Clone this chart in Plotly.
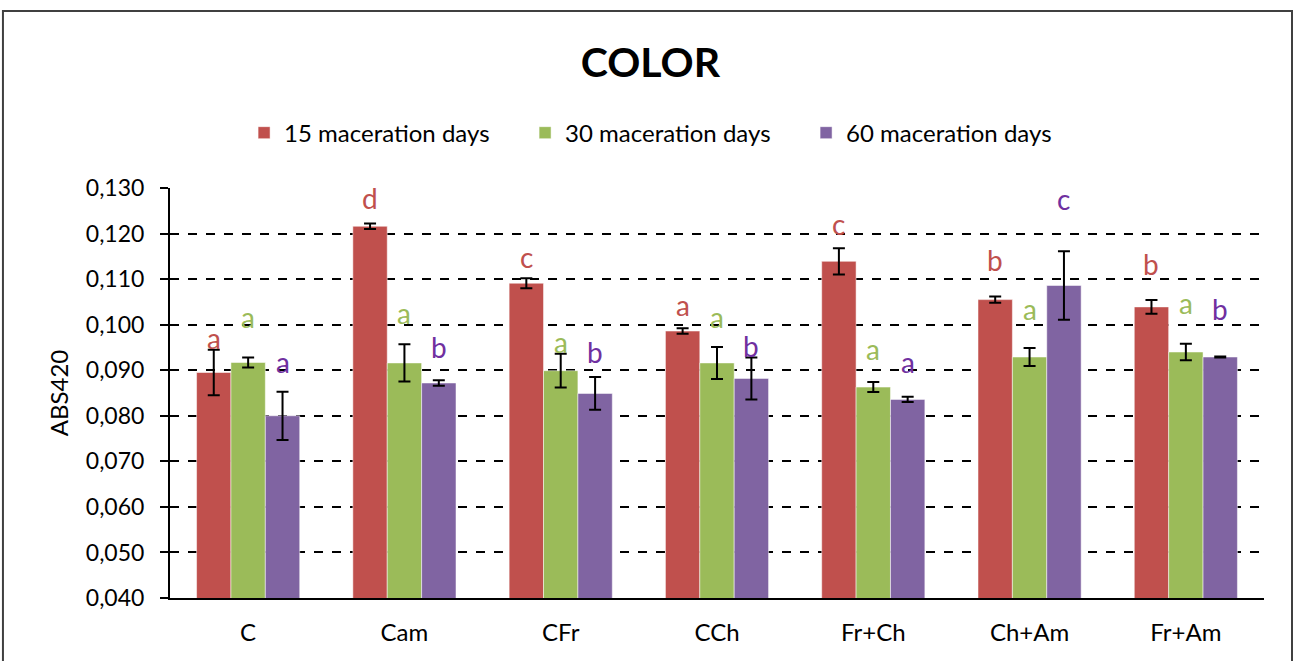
import plotly.graph_objects as go

categories = ["C", "Cam", "CFr", "CCh", "Fr+Ch", "Ch+Am", "Fr+Am"]
series_names = ["15 maceration days", "30 maceration days", "60 maceration days"]

abs_15 = [0.0895, 0.1216, 0.1091, 0.0986, 0.1139, 0.1055, 0.1039]
abs_30 = [0.0917, 0.0916, 0.0899, 0.0916, 0.0863, 0.0929, 0.0940]
abs_60 = [0.0800, 0.0872, 0.0849, 0.0882, 0.0836, 0.1086, 0.0929]

err_15 = [0.0050, 0.0006, 0.0011, 0.0006, 0.0029, 0.0007, 0.0015]
err_30 = [0.0011, 0.0041, 0.0037, 0.0035, 0.0011, 0.0020, 0.0018]
err_60 = [0.0053, 0.0006, 0.0036, 0.0046, 0.0006, 0.0075, 0.0001]

letters_15 = ["a", "d", "c", "a", "c", "b", "b"]
letters_30 = ["a", "a", "a", "a", "a", "a", "a"]
letters_60 = ["a", "b", "b", "b", "a", "c", "b"]

letter_y_15 = [0.0970, 0.1277, 0.1148, 0.1043, 0.1222, 0.1143, 0.1134]
letter_y_30 = [0.1017, 0.1025, 0.0961, 0.1017, 0.0947, 0.1034, 0.1047]
letter_y_60 = [0.0917, 0.0952, 0.0941, 0.0953, 0.0919, 0.1275, 0.1034]

bar_colors = ["#C0504D", "#9BBB59", "#8064A2"]
letter_colors = ["#C0504D", "#9BBB59", "#7030A0"]
FONT = "Lato"

fig = go.Figure()
for name, vals, errs, col in zip(series_names, [abs_15, abs_30, abs_60],
                                 [err_15, err_30, err_60], bar_colors):
    fig.add_trace(go.Bar(
        x=categories, y=vals, name=name,
        marker=dict(color=col, line=dict(color="rgba(255,255,255,0.5)", width=1)),
        error_y=dict(type="data", array=errs, visible=True,
                     color="black", thickness=2, width=6),
    ))

# significance letters above each bar
offsets = [-1, 0, 1]
bar_shift = 0.22
for letters, ys, col, off in zip([letters_15, letters_30, letters_60],
                                 [letter_y_15, letter_y_30, letter_y_60],
                                 letter_colors, offsets):
    for i, (lt, yv) in enumerate(zip(letters, ys)):
        fig.add_annotation(
            x=i + off * bar_shift, y=yv, xref="x", yref="y",
            text=lt, showarrow=False,
            font=dict(family=FONT, size=28, color=col),
            yanchor="middle", xanchor="center",
        )

# outer chart frame
fig.add_shape(type="rect", xref="paper", yref="paper",
              x0=-0.1527, x1=1.0256, y0=-0.18, y1=1.4317,
              line=dict(color="#404040", width=2), layer="below")

fig.update_layout(
    width=1293, height=661,
    margin=dict(l=170, r=29, t=188, b=63),
    paper_bgcolor="white", plot_bgcolor="white",
    separators=",.",
    font=dict(family=FONT, size=22, color="black"),
    title=dict(text="<b>COLOR</b>", x=0.503, xanchor="center",
               y=1 - 63 / 661, yanchor="middle", yref="container",
               font=dict(family=FONT, size=41, color="black")),
    barmode="group", bargap=0.34, bargroupgap=0,
    legend=dict(orientation="h", x=0.453, xanchor="center",
                y=1.134, yanchor="middle",
                font=dict(family=FONT, size=24), itemwidth=30,
                entrywidth=236, entrywidthmode="pixels",
                traceorder="normal"),
    showlegend=True,
)
fig.update_xaxes(
    showline=True, linecolor="black", linewidth=2,
    showgrid=False, ticks="", tickfont=dict(family=FONT, size=24),
    ticklabelstandoff=12,
    range=[-0.5, 6.5],
)
fig.update_yaxes(
    range=[0.040, 0.130], dtick=0.010, tick0=0.040, tickformat=".3f",
    showline=True, linecolor="black", linewidth=2,
    showgrid=True, gridcolor="black", gridwidth=1.5, griddash="dash",
    ticks="outside", ticklen=8, tickcolor="black", tickwidth=2,
    ticklabelstandoff=11,
    tickfont=dict(family=FONT, size=23),
    title=dict(text="ABS420", font=dict(family=FONT, size=24), standoff=10),
    zeroline=False,
)

fig.write_html("out.html")
